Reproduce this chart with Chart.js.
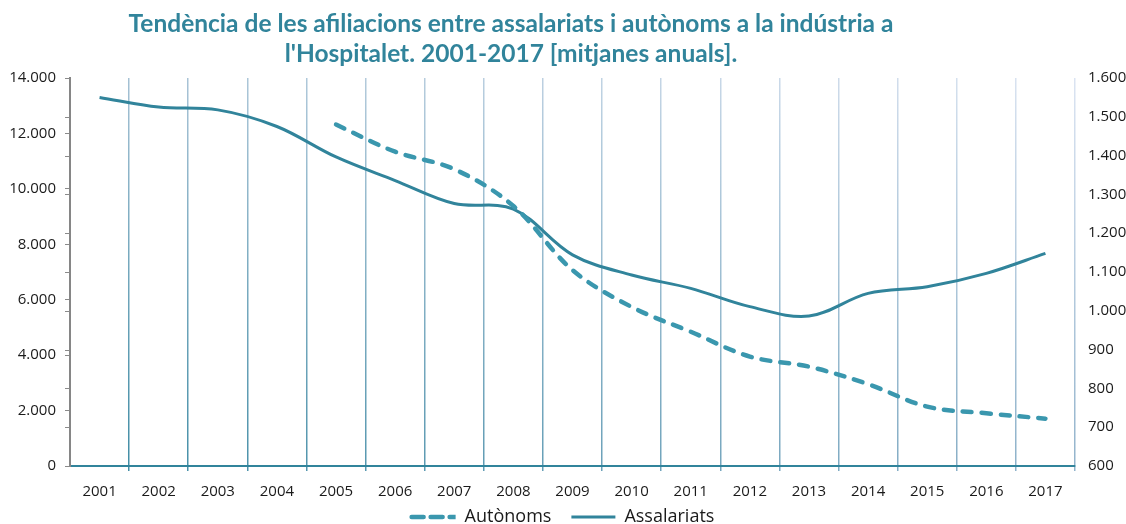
<!DOCTYPE html>
<html>
<head>
<meta charset="utf-8">
<script src="https://cdn.jsdelivr.net/npm/chart.js@4.4.1/dist/chart.umd.min.js"></script>
<style>
html,body{margin:0;padding:0;background:#fff;}
#wrap{width:1126px;height:524px;position:relative;}
</style>
</head>
<body>
<div id="wrap"><canvas id="c"></canvas></div>
<script>
// ---- data ----
const titleLines = [
  "Tendència de les afiliacions entre assalariats i autònoms a la indústria a",
  "l'Hospitalet. 2001-2017 [mitjanes anuals]."
];
const years = ['2001','2002','2003','2004','2005','2006','2007','2008','2009','2010','2011','2012','2013','2014','2015','2016','2017'];
const assalariats = [13300, 12950, 12850, 12250, 11150, 10300, 9470, 9270, 7620, 6890, 6410, 5750, 5410, 6230, 6470, 6950, 7670];
const autonoms = [null, null, null, null, 1480, 1410, 1365, 1270, 1105, 1010, 946, 882, 856, 811, 753, 736, 722];
const leftTickLabels = ['0','2.000','4.000','6.000','8.000','10.000','12.000','14.000'];
const rightTickLabels = ['600','700','800','900','1.000','1.100','1.200','1.300','1.400','1.500','1.600'];
const seriesNames = ['Autònoms','Assalariats'];

// ---- helpers ----
function hex(c){return [parseInt(c.slice(1,3),16),parseInt(c.slice(3,5),16),parseInt(c.slice(5,7),16)];}
function mix(a,b,t){const A=hex(a),B=hex(b);return 'rgb('+A.map((v,i)=>Math.round(v+(B[i]-v)*t)).join(',')+')';}
function gridColor(ctx){
  const chart = ctx.chart; const ca = chart.chartArea;
  const i = (ctx.index === undefined) ? years.length : ctx.index;
  if (i === 0) return 'rgba(0,0,0,0)';
  const t = i / years.length;
  if (!ca) return mix('#5a9ab2','#a8c2d6',t);
  const g = chart.ctx.createLinearGradient(0, ca.top, 0, ca.bottom);
  g.addColorStop(0, mix('#a2bfd2','#dbe4f2',t));
  g.addColorStop(1, mix('#3e8ca4','#93b4cc',t));
  return g;
}

const titlePlugin = {
  id: 'twoLineTitle',
  afterDraw(chart){
    const ctx = chart.ctx;
    ctx.save();
    ctx.fillStyle = '#31849B';
    ctx.textAlign = 'center';
    ctx.textBaseline = 'alphabetic';
    let size = 22;
    ctx.font = 'bold ' + size + 'px Lato';
    const w = ctx.measureText(titleLines[0]).width;
    size = size * 765 / w;
    ctx.font = 'bold ' + size.toFixed(2) + 'px Lato';
    ctx.fillText(titleLines[0], 511, 32);
    ctx.fillText(titleLines[1], 511, 62);
    ctx.restore();
  }
};

const secondaryTicksOnLeft = {
  id: 'secTicksLeft',
  afterDraw(chart){
    const y1 = chart.scales.y1; const x0 = chart.chartArea.left;
    const ctx = chart.ctx;
    ctx.save();
    ctx.strokeStyle = '#8a8a8a'; ctx.lineWidth = 1;
    y1.ticks.forEach(t => {
      const py = Math.round(y1.getPixelForValue(t.value)) + 0.5;
      ctx.beginPath(); ctx.moveTo(x0 - 5, py); ctx.lineTo(x0, py); ctx.stroke();
    });
    ctx.restore();
  }
};

const solidColor = '#31849B';
const dashColor = '#3A97AE';
const tickFont = { family: 'Open Sans', size: 15 };

new Chart(document.getElementById('c'), {
  type: 'line',
  data: {
    labels: years,
    datasets: [
      {
        label: seriesNames[0], data: autonoms, yAxisID: 'y1',
        borderColor: dashColor, backgroundColor: dashColor,
        borderWidth: 4.5, borderDash: [9, 10], borderCapStyle: 'round',
        pointRadius: 0, tension: 0.35, fill: false
      },
      {
        label: seriesNames[1], data: assalariats, yAxisID: 'y',
        borderColor: solidColor, backgroundColor: solidColor,
        borderWidth: 3, pointRadius: 0, tension: 0.35, fill: false
      }
    ]
  },
  options: {
    responsive: true,
    maintainAspectRatio: false,
    animation: false,
    layout: { padding: { top: 78, left: 0, right: 0, bottom: -12 } },
    plugins: {
      title: { display: false },
      tooltip: { enabled: false },
      legend: {
        position: 'bottom',
        labels: {
          font: { family: 'Open Sans', size: 18 },
          color: '#1a1a1a',
          boxWidth: 44, boxHeight: 0,
          padding: 20
        }
      }
    },
    scales: {
      x: {
        offset: true,
        grid: { offset: true, color: gridColor, lineWidth: 1.5, tickLength: 5, drawTicks: true },
        border: { display: true, color: '#31849B', width: 2 },
        ticks: { font: tickFont, color: '#1a1a1a', padding: 12, maxRotation: 0, autoSkip: false },
        afterFit(s){ s.height = 22; s._computeLabelArea = function(){ return undefined; }; }
      },
      y: {
        position: 'left',
        min: 0, max: 14000,
        grid: { drawOnChartArea: false, color: '#8a8a8a', tickLength: 5, lineWidth: 1 },
        border: { display: true, color: '#868686', width: 2 },
        ticks: {
          stepSize: 2000, padding: 9, color: '#1a1a1a',
          font: tickFont,
          callback: (v, i) => leftTickLabels[i]
        },
        afterFit(s){ s.width = 70; }
      },
      y1: {
        position: 'right',
        min: 600, max: 1600,
        grid: { display: false, drawTicks: false },
        border: { display: false },
        ticks: {
          stepSize: 100, padding: 13, color: '#1a1a1a',
          font: tickFont,
          callback: (v, i) => rightTickLabels[i]
        },
        afterFit(s){ s.width = 51; }
      }
    }
  },
  plugins: [titlePlugin, secondaryTicksOnLeft]
});
</script>
</body>
</html>
